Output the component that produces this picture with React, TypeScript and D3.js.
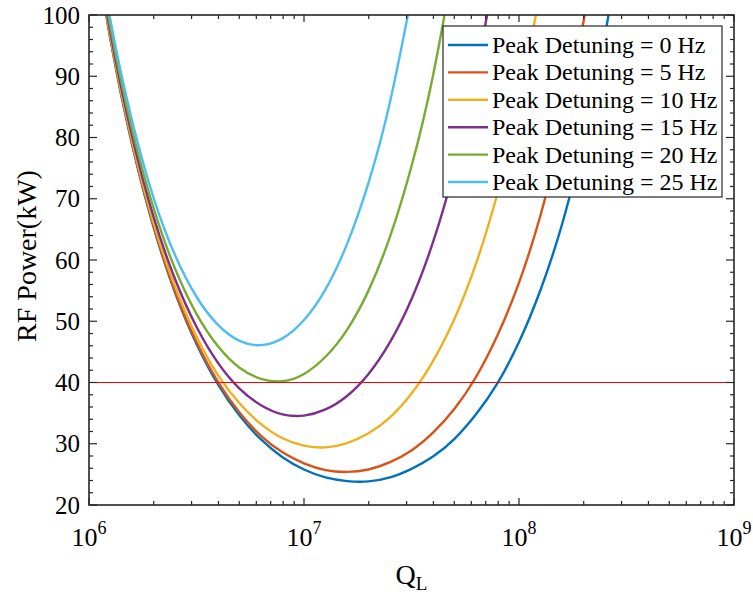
import React from "react";
import * as d3 from "d3";

const W = 753;
const H = 595;
const plot = { left: 89, right: 734, top: 15, bottom: 505 };

// Loaded quality factor sample points (0.1-decade spacing)
const qL = [
  1.0e6, 1.259e6, 1.585e6, 1.995e6, 2.512e6, 3.162e6, 3.981e6, 5.012e6, 6.31e6, 7.943e6,
  1.0e7, 1.259e7, 1.585e7, 1.995e7, 2.512e7, 3.162e7, 3.981e7, 5.012e7, 6.31e7, 7.943e7,
  1.0e8, 1.259e8, 1.585e8, 1.995e8, 2.512e8, 3.162e8,
];

// Required RF power (kW) for each peak detuning
const power0Hz = [
  117.6, 96.0, 78.9, 65.4, 54.7, 46.3, 39.7, 34.6, 30.7, 27.8, 25.8, 24.5, 23.9, 23.85, 24.5,
  25.9, 27.9, 30.8, 34.8, 39.9, 46.6, 55.1, 65.8, 79.5, 96.7, 118.5,
];
const power5Hz = [
  117.7, 96.1, 79.1, 65.6, 54.9, 46.6, 40.1, 35.1, 31.3, 28.6, 26.8, 25.7, 25.4, 25.8, 27.0,
  28.9, 31.8, 35.7, 40.9, 47.7, 56.3, 67.3, 81.3, 98.9, 121.3, null,
];
const power10Hz = [
  117.9, 96.5, 79.5, 66.1, 55.7, 47.5, 41.2, 36.6, 33.2, 30.9, 29.7, 29.4, 30.1, 31.7, 34.3,
  38.2, 43.5, 50.4, 59.4, 70.9, 85.6, 104.2, null, null, null, null,
];
const power15Hz = [
  118.4, 97.1, 80.3, 67.1, 56.9, 49.1, 43.2, 39.0, 36.3, 34.8, 34.6, 35.6, 37.8, 41.4, 46.6,
  53.6, 62.9, 74.9, 90.3, 109.7, null, null, null, null, null, null,
];
const power20Hz = [
  119.1, 98.0, 81.4, 68.5, 58.6, 51.2, 45.9, 42.4, 40.6, 40.2, 41.4, 44.2, 48.6, 55.0, 63.8,
  75.3, 90.1, 109.1, null, null, null, null, null, null, null, null,
];
const power25Hz = [
  120.0, 99.1, 82.8, 70.2, 60.8, 54.0, 49.4, 46.8, 46.1, 47.2, 50.2, 55.2, 62.6, 72.6, 85.8,
  103.0, null, null, null, null, null, null, null, null, null, null,
];

const seriesNames = [
  "Peak Detuning = 0 Hz",
  "Peak Detuning = 5 Hz",
  "Peak Detuning = 10 Hz",
  "Peak Detuning = 15 Hz",
  "Peak Detuning = 20 Hz",
  "Peak Detuning = 25 Hz",
];
const seriesValues = [power0Hz, power5Hz, power10Hz, power15Hz, power20Hz, power25Hz];
const seriesColors = ["#0072BD", "#D95319", "#EDB120", "#7E2F8E", "#77AC30", "#4DBEEE"];

const powerLimit = 40;
const yTicks = [20, 30, 40, 50, 60, 70, 80, 90, 100];
const xDecades = [6, 7, 8, 9];

const FONT = "'Liberation Serif', 'Times New Roman', Times, serif";
const AXIS = "#262626";

export default function App() {
  const x = d3.scaleLog().domain([1e6, 1e9]).range([plot.left, plot.right]);
  const y = d3.scaleLinear().domain([20, 100]).range([plot.bottom, plot.top]);

  const line = d3
    .line<[number, number | null]>()
    .defined((d) => d[1] != null)
    .x((d) => x(d[0]))
    .y((d) => y(d[1] as number))
    .curve(d3.curveNatural);

  const yMinor = d3.range(20, 100.01, 2).filter((v) => v % 10 !== 0);
  const xMinor: number[] = [];
  for (let e = 6; e < 9; e++) for (let m = 2; m <= 9; m++) xMinor.push(m * 10 ** e);

  const legend = { x: 443, y: 26, w: 279, h: 171, row: 27.4 };

  return (
    <svg width={W} height={H} style={{ display: "block", position: "absolute", left: 0, top: 0 }} fontFamily={FONT}>
      <rect width={W} height={H} fill="#fff" />
      <defs>
        <clipPath id="plotArea">
          <rect x={plot.left} y={plot.top} width={plot.right - plot.left} height={plot.bottom - plot.top} />
        </clipPath>
      </defs>

      <g clipPath="url(#plotArea)">
        {seriesValues.map((vals, i) => (
          <path
            key={seriesNames[i]}
            d={line(qL.map((q, k) => [q, vals[k]] as [number, number | null])) || ""}
            fill="none"
            stroke={seriesColors[i]}
            strokeWidth={2.4}
            strokeLinejoin="round"
          />
        ))}
        <line x1={plot.left} x2={plot.right} y1={y(powerLimit)} y2={y(powerLimit)} stroke="#ff0000" strokeWidth={1.2} />
      </g>

      {/* axis box */}
      <rect
        x={plot.left}
        y={plot.top}
        width={plot.right - plot.left}
        height={plot.bottom - plot.top}
        fill="none"
        stroke={AXIS}
        strokeWidth={1.6}
      />

      {/* y ticks, left and right */}
      {yTicks.map((v) => (
        <g key={"yt" + v}>
          <line x1={plot.left} x2={plot.left + 8} y1={y(v)} y2={y(v)} stroke={AXIS} strokeWidth={1.2} />
          <line x1={plot.right} x2={plot.right - 8} y1={y(v)} y2={y(v)} stroke={AXIS} strokeWidth={1.2} />
          <text x={plot.left - 9} y={y(v)} dy="0.34em" textAnchor="end" fontSize={25} fill="#000">
            {v}
          </text>
        </g>
      ))}
      {yMinor.map((v) => (
        <g key={"ym" + v}>
          <line x1={plot.left} x2={plot.left + 4} y1={y(v)} y2={y(v)} stroke={AXIS} strokeWidth={1.2} />
          <line x1={plot.right} x2={plot.right - 4} y1={y(v)} y2={y(v)} stroke={AXIS} strokeWidth={1.2} />
        </g>
      ))}

      {/* x ticks, bottom and top */}
      {xDecades.map((e) => {
        const px = x(10 ** e);
        return (
          <g key={"xt" + e}>
            <line x1={px} x2={px} y1={plot.bottom} y2={plot.bottom - 7} stroke={AXIS} strokeWidth={1.2} />
            <line x1={px} x2={px} y1={plot.top} y2={plot.top + 7} stroke={AXIS} strokeWidth={1.2} />
            <text x={px} y={546} textAnchor="middle" fontSize={26} fill="#000">
              <tspan>10</tspan>
              <tspan dy={-12} fontSize={18}>
                {e}
              </tspan>
            </text>
          </g>
        );
      })}
      {xMinor.map((v) => (
        <g key={"xm" + v}>
          <line x1={x(v)} x2={x(v)} y1={plot.bottom} y2={plot.bottom - 4} stroke={AXIS} strokeWidth={1.2} />
          <line x1={x(v)} x2={x(v)} y1={plot.top} y2={plot.top + 4} stroke={AXIS} strokeWidth={1.2} />
        </g>
      ))}

      {/* axis titles */}
      <text transform={`translate(36, 256) rotate(-90)`} textAnchor="middle" fontSize={28} fill="#000">
        RF Power(kW)
      </text>
      <text x={(plot.left + plot.right) / 2} y={584} textAnchor="middle" fontSize={28} fill="#000">
        <tspan>Q</tspan>
        <tspan dy={6} fontSize={19}>
          L
        </tspan>
      </text>

      {/* legend */}
      <rect x={legend.x} y={legend.y} width={legend.w} height={legend.h} fill="#fff" stroke={AXIS} strokeWidth={1.2} />
      {seriesNames.map((name, i) => {
        const cy = legend.y + 19 + i * legend.row;
        return (
          <g key={"lg" + i}>
            <line x1={legend.x + 5} x2={legend.x + 45} y1={cy} y2={cy} stroke={seriesColors[i]} strokeWidth={2.4} />
            <text x={legend.x + 49} y={cy} dy="0.33em" fontSize={24} fill="#000">
              {name}
            </text>
          </g>
        );
      })}
    </svg>
  );
}
